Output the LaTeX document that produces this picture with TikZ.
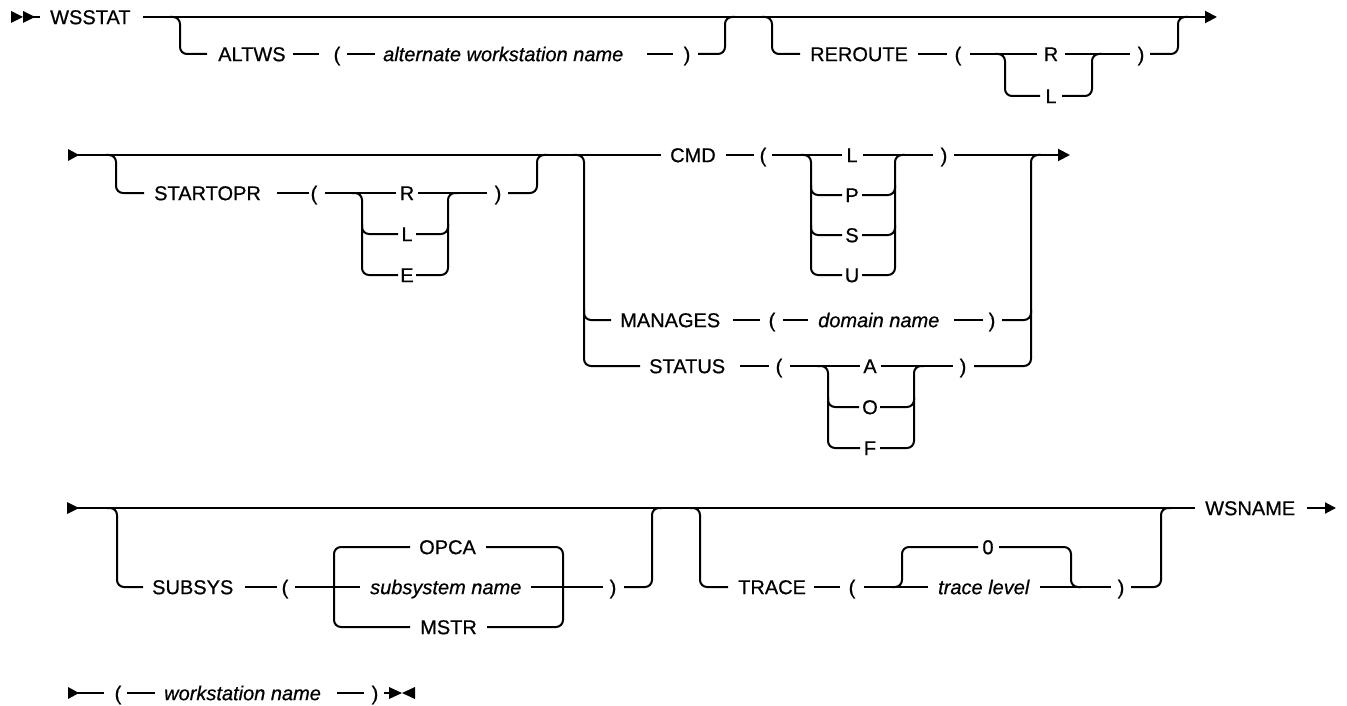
\documentclass[tikz,border=0pt]{standalone}
\usepackage{fontspec}
\setmainfont{Liberation Sans}[FakeBold=0.6]
\usetikzlibrary{arrows.meta}
\begin{document}
\begin{tikzpicture}[x=1pt,y=-1pt,
  ln/.style={line width=2pt, rounded corners=7pt},
  txt/.style={font=\fontsize{20}{24}\selectfont, inner sep=0pt, text height=14.3pt, text depth=0pt, anchor=west},
  ctxt/.style={txt, anchor=center},
  itx/.style={txt, font=\fontsize{20}{24}\selectfont\itshape},
  endarrow/.style={ln, -{Triangle[length=12pt,width=12pt]}}]
\useasboundingbox (0,0) rectangle (1347,706);

% ---------------- Row 1 ----------------
\fill (11,11) -- (23,17) -- (11,23) -- cycle;
\fill (23,11) -- (35,17) -- (23,23) -- cycle;
\draw[ln] (30,17) -- (40,17);
\node[txt] (wsstat) at (50,17) {WSSTAT};
\draw[endarrow] (143,17) -- (1217,17);
% ALTWS
\draw[ln] (170,17) -- (180,17) -- (180,54) -- (207,54);
\node[txt] (altws) at (218,54) {ALTWS};
\draw[ln] (293,54) -- (319,54);
\node[ctxt] (altlp) at (337,54) {(};
\draw[ln] (347,54) -- (375,54);
\node[itx] (altname) at (383,54) {alternate workstation name};
\draw[ln] (647,54) -- (673,54);
\node[ctxt] (altrp) at (687,54) {)};
\draw[ln] (698,54) -- (725,54) -- (725,17) -- (735,17);
% REROUTE
\draw[ln] (762,17) -- (772,17) -- (772,54) -- (800,54);
\node[txt] (reroute) at (810,54) {REROUTE};
\draw[ln] (918,54) -- (947,54);
\node[ctxt] (rerlp) at (958,54) {(};
\draw[ln] (970,54) -- (1037,54);
\node[ctxt] (rerR) at (1051,54) {R};
\draw[ln] (1065,54) -- (1130,54);
\draw[ln] (995,54) -- (1005,54) -- (1005,96) -- (1040,96);
\node[ctxt] (rerL) at (1051,96) {L};
\draw[ln] (1062,96) -- (1092,96) -- (1092,54) -- (1102,54);
\node[ctxt] (rerrp) at (1141,54) {)};
\draw[ln] (1150,54) -- (1178,54) -- (1178,17) -- (1188,17);

% ---------------- Row 2 ----------------
\fill (68,149) -- (79,155) -- (68,161) -- cycle;
\draw[ln] (70,155) -- (661,155);
% STARTOPR
\draw[ln] (106,155) -- (116,155) -- (116,193) -- (144,193);
\node[txt] (startopr) at (154,193) {STARTOPR};
\draw[ln] (277,193) -- (309,193);
\node[ctxt] (stlp) at (314,193) {(};
\draw[ln] (325,193) -- (396,193);
\node[ctxt] (stR) at (407,193) {R};
\draw[ln] (418,193) -- (487,193);
\draw[ln] (352,193) -- (362,193) -- (362,275) -- (398,275);
\draw[ln] (362,224) -- (362,234) -- (398,234);
\node[ctxt] (stL) at (407,234) {L};
\node[ctxt] (stE) at (407,275) {E};
\draw[ln] (416,234) -- (448,234) -- (448,224);
\draw[ln] (416,275) -- (448,275) -- (448,193) -- (458,193);
\node[ctxt] (strp) at (498,193) {)};
\draw[ln] (508,193) -- (537,193) -- (537,155) -- (547,155);
% big required choice
\draw[ln] (574,155) -- (584,155) -- (584,366) -- (640,366);
\draw[ln] (584,310) -- (584,320) -- (611,320);
% CMD
\node[txt] (cmd) at (670,155) {CMD};
\draw[ln] (726,155) -- (754,155);
\node[ctxt] (cmdlp) at (763,155) {(};
\draw[ln] (772,155) -- (842,155);
\node[ctxt] (cmdL) at (852,155) {L};
\draw[ln] (863,155) -- (933,155);
\draw[ln] (801,155) -- (811,155) -- (811,275) -- (842,275);
\draw[ln] (811,185) -- (811,195) -- (842,195);
\draw[ln] (811,225) -- (811,235) -- (842,235);
\node[ctxt] (cmdP) at (852,195) {P};
\node[ctxt] (cmdS) at (852,235) {S};
\node[ctxt] (cmdU) at (852,275) {U};
\draw[ln] (862,195) -- (895,195) -- (895,185);
\draw[ln] (862,235) -- (895,235) -- (895,225);
\draw[ln] (862,275) -- (895,275) -- (895,155) -- (905,155);
\node[ctxt] (cmdrp) at (944,155) {)};
\draw[endarrow] (954,155) -- (1070,155);
\draw[ln] (974,366) -- (1031,366) -- (1031,155) -- (1041,155);
\draw[ln] (1002,320) -- (1031,320) -- (1031,310);
% MANAGES
\node[txt] (manages) at (620,320) {MANAGES};
\draw[ln] (733,320) -- (760,320);
\node[ctxt] (manlp) at (772,320) {(};
\draw[ln] (783,320) -- (808,320);
\node[itx] (domain) at (818,320) {domain name};
\draw[ln] (954,320) -- (983,320);
\node[ctxt] (manrp) at (992,320) {)};
% STATUS
\node[txt] (status) at (649,366) {STATUS};
\draw[ln] (740,366) -- (769,366);
\node[ctxt] (statlp) at (779,366) {(};
\draw[ln] (790,366) -- (860,366);
\node[ctxt] (statA) at (870,366) {A};
\draw[ln] (881,366) -- (953,366);
\node[ctxt] (statrp) at (963,366) {)};
\draw[ln] (817,366) -- (828,366) -- (828,448) -- (860,448);
\draw[ln] (828,397) -- (828,407) -- (859,407);
\node[ctxt] (statO) at (870,407) {O};
\node[ctxt] (statF) at (870,448) {F};
\draw[ln] (880,407) -- (914,407) -- (914,397);
\draw[ln] (880,448) -- (914,448) -- (914,366) -- (924,366);

% ---------------- Row 3 ----------------
\fill (67,502) -- (79,508) -- (67,514) -- cycle;
\draw[ln] (70,508) -- (1195,508);
\node[txt] (wsname) at (1205,508) {WSNAME};
\draw[ln, -{Triangle[length=11pt,width=11pt]}] (1307,508) -- (1336,508);
% SUBSYS
\draw[ln] (107,508) -- (117,508) -- (117,587) -- (143,587);
\node[txt] (subsys) at (152,587) {SUBSYS};
\draw[ln] (245,587) -- (277,587);
\node[ctxt] (sublp) at (285,587) {(};
\draw[ln] (295,587) -- (360,587);
\node[itx] (subname) at (370,587) {subsystem name};
\draw[ln] (531,587) -- (603,587);
\draw[ln] (410,547) -- (334,547) -- (334,627) -- (410,627);
\node[txt] (opca) at (419,547) {OPCA};
\node[txt] (mstr) at (420,627) {MSTR};
\draw[ln] (486,547) -- (563,547) -- (563,627) -- (487,627);
\node[ctxt] (subrp) at (613,587) {)};
\draw[ln] (624,587) -- (652,587) -- (652,508) -- (662,508);
% TRACE
\draw[ln] (690,508) -- (700,508) -- (700,587) -- (728,587);
\node[txt] (trace) at (738,587) {TRACE};
\draw[ln] (814,587) -- (840,587);
\node[ctxt] (trlp) at (852,587) {(};
\draw[ln] (864,587) -- (928,587);
\draw[ln] (892,587) -- (902,587) -- (902,547) -- (978,547);
\node[ctxt] (trzero) at (988,547) {0};
\node[itx] (trlevel) at (938,587) {trace level};
\draw[ln] (999,547) -- (1071,547) -- (1071,587) -- (1081,587);
\draw[ln] (1040,587) -- (1111,587);
\node[ctxt] (trrp) at (1121,587) {)};
\draw[ln] (1131,587) -- (1161,587) -- (1161,508) -- (1171,508);

% ---------------- Row 4 ----------------
\fill (68,687) -- (79,693) -- (68,699) -- cycle;
\draw[ln] (70,693) -- (104,693);
\node[ctxt] (wslp) at (118,693) {(};
\draw[ln] (127,693) -- (155,693);
\node[itx] (wsn) at (164,693) {workstation name};
\draw[ln] (337,693) -- (364,693);
\node[ctxt] (wsrp) at (375,693) {)};
\draw[ln] (384,693) -- (395,693);
\fill (389,687) -- (402,693) -- (389,699) -- cycle;
\fill (415,687) -- (402,693) -- (415,699) -- cycle;
\end{tikzpicture}
\end{document}
